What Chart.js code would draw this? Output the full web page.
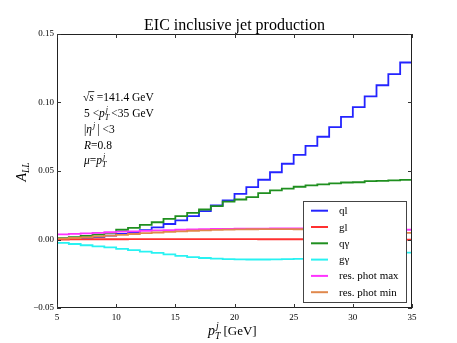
<!DOCTYPE html>
<html>
<head>
<meta charset="utf-8">
<script src="https://cdn.jsdelivr.net/npm/chart.js@4.4.1/dist/chart.umd.min.js"></script>
<style>
html,body{margin:0;padding:0;background:#fff;}
#wrap{width:457px;height:343px;}
</style>
</head>
<body>
<div id="wrap"><canvas id="c" width="457" height="343"></canvas></div>
<script>
// ---- data ----
const binEdges = [5,6,7,8,9,10,11,12,13,14,15,16,17,18,19,20,21,22,23,24,25,26,27,28,29,30,31,32,33,34,35];
const seriesLabels = ['ql','gl','q\u03b3','g\u03b3','res. phot max','res. phot min'];
const ql = [0.0005,0.0008,0.0012,0.0017,0.0028,0.0040,0.0054,0.0069,0.0089,0.0113,0.0139,0.0170,0.0207,0.0248,0.0285,0.0333,0.0382,0.0436,0.0491,0.0553,0.0618,0.0684,0.0750,0.0820,0.0895,0.0966,0.1044,0.1126,0.1207,0.1292];
const gl = [0.0000,0.0001,0.0001,0.0002,0.0002,0.0002,0.0003,0.0003,0.0003,0.0003,0.0003,0.0003,0.0003,0.0003,0.0003,0.0003,0.0003,0.0002,0.0002,0.0002,0.0002,0.0001,0.0001,0.0001,0.0000,0.0000,0.0000,-0.0001,-0.0001,-0.0002];
const qgamma = [0.0010,0.0017,0.0027,0.0036,0.0048,0.0071,0.0085,0.0107,0.0126,0.0151,0.0170,0.0195,0.0219,0.0243,0.0276,0.0292,0.0309,0.0338,0.0358,0.0372,0.0385,0.0395,0.0402,0.0409,0.0416,0.0418,0.0426,0.0428,0.0431,0.0435];
const ggamma = [-0.0025,-0.0033,-0.0042,-0.0050,-0.0058,-0.0068,-0.0078,-0.0088,-0.0098,-0.0108,-0.0120,-0.0128,-0.0135,-0.0140,-0.0143,-0.0145,-0.0146,-0.0146,-0.0145,-0.0143,-0.0141,-0.0138,-0.0134,-0.0130,-0.0125,-0.0120,-0.0114,-0.0108,-0.0102,-0.0096];
const physMax = [0.0038,0.0041,0.0045,0.0049,0.0053,0.0057,0.0060,0.0063,0.0066,0.0069,0.0071,0.0073,0.0075,0.0077,0.0078,0.0079,0.0080,0.0080,0.0081,0.0081,0.0081,0.0080,0.0080,0.0079,0.0078,0.0077,0.0076,0.0074,0.0073,0.0071];
const physMin = [0.0006,0.0011,0.0016,0.0022,0.0028,0.0034,0.0040,0.0046,0.0051,0.0056,0.0060,0.0064,0.0067,0.0070,0.0072,0.0074,0.0075,0.0076,0.0076,0.0076,0.0075,0.0073,0.0071,0.0068,0.0065,0.0062,0.0059,0.0056,0.0053,0.0049];
const xTicks = [5,10,15,20,25,30,35];
const yTicks = [-0.05,0.00,0.05,0.10,0.15];

const colors = ['#2424ff','#ff3030','#1f8f1f','#28f2f2','#ff33ff','#e0884c'];
const allSeries = [ql, gl, qgamma, ggamma, physMax, physMin];

function toPts(vals){
  return binEdges.map((x,i)=>({x:x, y: vals[Math.min(i, vals.length-1)]}));
}

const SERIF = '"Liberation Serif","DejaVu Serif",serif';

function fmtY(v){
  const s = Number(v).toFixed(2);
  return s.replace('-', '\u2212');
}

// draw runs of math-like text
function drawRuns(ctx, x, y, runs, base){
  for (const r of runs){
    if (r.stack){
      const fs = base*0.7;
      ctx.font = 'italic ' + fs + 'px ' + SERIF;
      ctx.fillText(r.stack[0], x + 1, y - base*0.42);
      ctx.fillText(r.stack[1], x, y + base*0.28);
      const w = Math.max(ctx.measureText(r.stack[0]).width+1, ctx.measureText(r.stack[1]).width);
      x += w + (r.gap||0);
      continue;
    }
    const fs = base*(r.s||1);
    ctx.font = (r.i ? 'italic ' : '') + fs + 'px ' + SERIF;
    ctx.fillText(r.t, x, y + (r.dy||0));
    const w = ctx.measureText(r.t).width;
    if (r.over){
      ctx.save();
      ctx.lineWidth = 0.8;
      ctx.strokeStyle = ctx.fillStyle;
      ctx.beginPath();
      ctx.moveTo(x - 1, y - base*0.82);
      ctx.lineTo(x + w + 0.5, y - base*0.82);
      ctx.stroke();
      ctx.restore();
    }
    x += w + (r.gap||0);
  }
  return x;
}

const deco = {
  id: 'deco',
  afterDatasetsDraw(chart){
    const ctx = chart.ctx;
    const a = chart.chartArea;
    const xs = chart.scales.x, ys = chart.scales.y;
    ctx.save();
    // frame
    ctx.strokeStyle = '#222';
    ctx.lineWidth = 1;
    ctx.strokeRect(a.left + 0.5, a.top + 0.5, a.right - a.left - 1, a.bottom - a.top - 1);
    // inward ticks
    ctx.beginPath();
    xTicks.forEach(v=>{
      const px = Math.round(xs.getPixelForValue(v)) + 0.5;
      ctx.moveTo(px, a.bottom); ctx.lineTo(px, a.bottom - 4);
      ctx.moveTo(px, a.top); ctx.lineTo(px, a.top + 4);
    });
    yTicks.forEach(v=>{
      const py = Math.round(ys.getPixelForValue(v)) + 0.5;
      ctx.moveTo(a.left, py); ctx.lineTo(a.left + 4, py);
      ctx.moveTo(a.right, py); ctx.lineTo(a.right - 4, py);
    });
    ctx.strokeStyle = '#333';
    ctx.stroke();

    // legend box
    const lx = 303, ly = 201, lw = 103, lh = 101;
    ctx.fillStyle = '#fff';
    ctx.fillRect(lx, ly, lw, lh);
    ctx.strokeStyle = '#444';
    ctx.lineWidth = 1;
    ctx.strokeRect(lx + 0.5, ly + 0.5, lw, lh);
    chart.data.datasets.forEach((ds, i)=>{
      const yy = 210.7 + i*16.3;
      ctx.strokeStyle = ds.borderColor;
      ctx.lineWidth = 2;
      ctx.beginPath();
      ctx.moveTo(311, yy); ctx.lineTo(328, yy);
      ctx.stroke();
      ctx.fillStyle = '#000';
      ctx.font = '11px ' + SERIF;
      ctx.textBaseline = 'alphabetic';
      ctx.textAlign = 'left';
      ctx.fillText(ds.label, 339, yy + 3.5);
    });
    ctx.restore();
  },
  afterDraw(chart){
    const ctx = chart.ctx;
    ctx.save();
    ctx.fillStyle = '#000';
    ctx.textAlign = 'left';
    ctx.textBaseline = 'alphabetic';
    // title
    ctx.font = '16px ' + SERIF;
    const title = 'EIC inclusive jet production';
    const tw = ctx.measureText(title).width;
    ctx.fillText(title, 234.5 - tw/2, 30);

    // annotation
    const B = 11.5;
    drawRuns(ctx, 83, 101, [{t:'\u221a'},{t:'s', i:true, over:true, gap:3},{t:'=141.4 GeV'}], B);
    drawRuns(ctx, 84, 117, [{t:'5 <'},{t:'p', i:true},{stack:['j','T'], gap:2},{t:'<35 GeV'}], B);
    drawRuns(ctx, 84, 133, [{t:'|'},{t:'\u03b7', i:true},{stack:['j',''], gap:2},{t:'| <3'}], B);
    drawRuns(ctx, 84, 149, [{t:'R', i:true},{t:'=0.8'}], B);
    drawRuns(ctx, 84, 164, [{t:'\u03bc', i:true},{t:'='},{t:'p', i:true},{stack:['j','T']}], B);

    // x label
    ctx.font = '14px ' + SERIF;
    drawRuns(ctx, 208, 335, [{t:'p', i:true},{stack:['j','T'], gap:3},{t:'[GeV]', s:0.93}], 14);

    // y label
    ctx.save();
    ctx.translate(26, 172);
    ctx.rotate(-Math.PI/2);
    ctx.font = 'italic 14px ' + SERIF;
    const aw = ctx.measureText('A').width;
    ctx.font = 'italic 9.5px ' + SERIF;
    const sw = ctx.measureText('LL').width;
    const total = aw + sw;
    ctx.font = 'italic 14px ' + SERIF;
    ctx.fillText('A', -total/2, 0);
    ctx.font = 'italic 9.5px ' + SERIF;
    ctx.fillText('LL', -total/2 + aw, 3);
    ctx.restore();

    ctx.restore();
  }
};

const datasets = allSeries.map((vals, i)=>({
  label: seriesLabels[i],
  data: toPts(vals),
  borderColor: colors[i],
  backgroundColor: colors[i],
  borderWidth: 1.8,
  pointRadius: 0,
  fill: false,
  stepped: true,
  tension: 0,
  order: allSeries.length - i
}));

new Chart(document.getElementById('c'), {
  type: 'line',
  data: { datasets },
  options: {
    responsive: false,
    animation: false,
    devicePixelRatio: 1,
    layout: { padding: { left: 0, right: 45, top: 34, bottom: 0 } },
    plugins: { legend: { display: false }, tooltip: { enabled: false }, title: { display: false } },
    scales: {
      x: {
        type: 'linear', min: 5, max: 35,
        afterBuildTicks(s){ s.ticks = xTicks.map(v=>({value:v})); },
        afterFit(s){ s.height = 35; },
        grid: { display: false, drawTicks: false },
        border: { display: false },
        ticks: { color: '#000', padding: 4, maxRotation: 0, font: { family: SERIF, size: 9 }, callback: v => String(v) }
      },
      y: {
        type: 'linear', min: -0.05, max: 0.15,
        afterBuildTicks(s){ s.ticks = yTicks.map(v=>({value:v})); },
        afterFit(s){ s.width = 57; },
        grid: { display: false, drawTicks: false },
        border: { display: false },
        ticks: { color: '#000', padding: 3, font: { family: SERIF, size: 9 }, callback: v => fmtY(v) }
      }
    }
  },
  plugins: [deco]
});
</script>
</body>
</html>
